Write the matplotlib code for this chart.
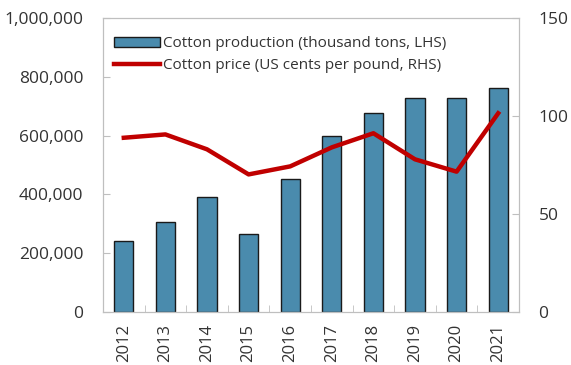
import matplotlib
matplotlib.use("Agg")
import matplotlib.pyplot as plt
from matplotlib.ticker import FuncFormatter, MultipleLocator
import numpy as np

years = ["2012", "2013", "2014", "2015", "2016", "2017", "2018", "2019", "2020", "2021"]
production = [240000, 307000, 390000, 265000, 452000, 599000, 677000, 729000, 729000, 763000]
price = [88.9, 90.6, 83.0, 70.2, 74.3, 84.0, 91.2, 77.9, 71.6, 101.4]

plt.rcParams['font.family'] = ['Open Sans', 'DejaVu Sans']

fig = plt.figure(figsize=(5.71, 3.65), dpi=100)
ax = fig.add_axes([103/571, 1-312/365, 416/571, 294/365])
x = np.arange(len(years))
ax.bar(x, production, width=0.46, color="#4A8BAD", edgecolor="#1a1a1a", linewidth=1.0,
       label="Cotton production (thousand tons, LHS)", zorder=2)
ax.set_xlim(-0.5, len(years) - 0.5)
ax.set_ylim(0, 1000000)
ax.yaxis.set_major_locator(MultipleLocator(200000))
ax.yaxis.set_major_formatter(FuncFormatter(lambda v, p: f"{int(v):,}"))
ax.set_xticks(x)
ax.set_xticklabels(years, rotation=90)
ax.set_xticks(np.arange(-0.5, len(years), 1), minor=True)
ax.tick_params(axis='x', which='major', length=0, pad=8.5)
ax.tick_params(axis='x', which='minor', direction='in', length=5, color="#BFBFBF")
ax.tick_params(axis='y', direction='in', length=5, color="#BFBFBF", labelsize=12.5, pad=14)
ax.tick_params(axis='x', labelsize=12)
for s in ax.spines.values():
    s.set_color("#BFBFBF")

ax2 = ax.twinx()
ax2.plot(x, price, color="#C00000", linewidth=3.2, label="Cotton price (US cents per pound, RHS)", zorder=3)
ax2.set_ylim(0, 150)
ax2.yaxis.set_major_locator(MultipleLocator(50))
ax2.tick_params(axis='y', direction='in', length=5, color="#BFBFBF", labelsize=12.5, pad=14)
for s in ax2.spines.values():
    s.set_color("#BFBFBF")

for t in ax.get_yticklabels() + ax2.get_yticklabels() + ax.get_xticklabels():
    t.set_color("#333333")

h1, l1 = ax.get_legend_handles_labels()
h2, l2 = ax2.get_legend_handles_labels()
leg = ax2.legend(h1 + h2, l1 + l2, loc="upper left", frameon=False, fontsize=11,
                 handlelength=3.0, handletextpad=0.25, borderaxespad=0.0, borderpad=0.0,
                 labelspacing=0.45, bbox_to_anchor=(0.026, 0.938))
for t in leg.get_texts():
    t.set_color("#333333")

fig.savefig("out.png", dpi=100)
